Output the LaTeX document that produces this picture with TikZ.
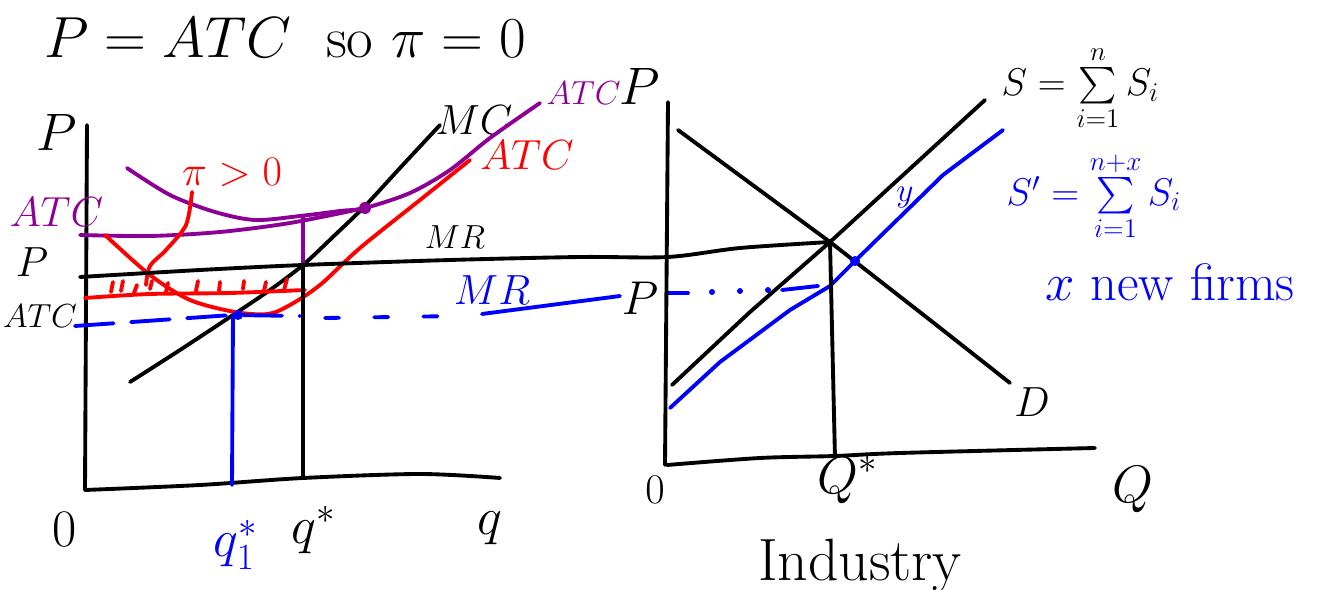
\documentclass[tikz,border=0pt]{standalone}
\usepackage{fix-cm}
\usepackage{exscale}
\definecolor{violet}{RGB}{140,0,150}
\definecolor{rouge}{RGB}{255,0,0}
\definecolor{bleu}{RGB}{0,0,255}
\tikzset{
  trait/.style={line width=2.2pt,line cap=round,line join=round},
  titre/.style={font=\fontsize{33}{33}\selectfont},
  grand/.style={font=\fontsize{30}{30}\selectfont},
  moyen/.style={font=\fontsize{24}{24}\selectfont},
  somme/.style={font=\fontsize{22}{22}\selectfont,anchor=west,inner sep=1pt},
  petit/.style={font=\fontsize{19}{19}\selectfont},
}
\begin{document}
\begin{tikzpicture}[x=0.02cm,y=-0.02cm,trait]
\useasboundingbox (0,0) rectangle (1322,590);
		%titre
		\node[titre] (titre) at (285,38) {$P = ATC$\ \ so $\pi = 0$};
		%axes firme
		\draw (87,125) -- (85,490);
		\draw plot[smooth] coordinates {(85,490) (200,485) (303,478) (420,474) (500,478)};
		\node[grand] (pf) at (57,132) {$P$};
		\node[grand] (zf) at (65,530) {$0$};
		\node[grand,bleu] (q1) at (236,545) {$q_1^*$};
		\node[grand] (qe) at (314,530) {$q^*$};
		\node[grand] (qf) at (490,528) {$q$};
		%couts
		\draw plot[smooth] coordinates {(130,382) (180,350) (233,315) (270,290) (303,265) (335,235) (365,206) (400,168) (440,125)};
		\node[moyen] (mc) at (474,120) {$MC$};
		\draw[violet] plot[smooth] coordinates {(127,168) (170,195) (215,212) (255,220) (300,216) (340,211) (365,208) (410,193) (450,170) (490,138) (540,103)};
		\draw[violet] plot[smooth] coordinates {(80,235) (150,236) (220,232) (290,223) (365,208)};
		\draw[violet] (303,217) -- (303,266);
		\fill[violet] (365,208) circle (6);
		\node[moyen,violet,anchor=west] (atcv) at (2,212) {$ATC$};
		\node[font=\fontsize{19}{19}\selectfont,violet,anchor=west,inner sep=1pt] (atcv2) at (543,93) {$ATC$};
		\draw[rouge] plot[smooth] coordinates {(105,235) (150,275) (190,300) (235,312) (268,314) (290,305) (320,285) (360,248) (420,200) (470,160)};
		\draw[rouge] plot[smooth] coordinates {(85,298) (150,294) (230,293) (305,290)};
		\node[moyen,rouge] (atcr) at (527,155) {$ATC$};
		\node[moyen,rouge] (profit) at (232,172) {$\pi > 0$};
		\draw[rouge] plot[smooth] coordinates {(192,192) (186,225) (166,250) (150,266) (146,285)};
		%hachures
		\draw[rouge] (113,282) -- (111,292);
		\draw[rouge] (123,281) -- (121,291);
		\draw[rouge] (137,285) -- (134,293);
		\draw[rouge] (152,281) -- (150,289);
		\draw[rouge] (168,283) -- (166,292);
		\draw[rouge] (198,281) -- (196,291);
		\draw[rouge] (220,282) -- (219,291);
		\draw[rouge] (244,281) -- (243,289);
		\draw[rouge] (266,282) -- (264,291);
		\draw[rouge] (287,279) -- (284,290);
		%prix
		\draw plot[smooth] coordinates {(80,277) (200,270) (303,265) (450,260) (580,257) (668,257) (740,248) (830,242)};
		\node[petit] (mr) at (455,237) {$MR$};
		\node[moyen] (pp) at (32,262) {$P$};
		\node[petit] (atcn) at (40,316) {$ATC$};
		\draw (303,265) -- (303,477);
		%nouveau prix
		\draw[bleu,dash pattern=on 22pt off 10pt] (75,326) -- (232,315) -- (300,316);
		\draw[bleu,dash pattern=on 8pt off 20pt] (325,318) -- (460,316);
		\draw[bleu] (482,314) -- (620,296);
		\draw[bleu] (233,315) -- (232,485);
		\fill[bleu] (238,315) circle (5);
		\node[moyen,bleu] (mrb) at (492,290) {$MR$};
		\node[font=\fontsize{27}{27}\selectfont] (pb) at (640,298) {$P$};
		\draw[bleu] (668,293) -- (688,293);
		\fill[bleu] (712,292) circle (3);
		\fill[bleu] (740,291) circle (3);
		\fill[bleu] (768,290) circle (3);
		\draw[bleu] (782,290) -- (818,286);
		%industrie
		\draw (668,102) -- (665,465);
		\draw plot[smooth] coordinates {(667,465) (760,458) (835,456) (900,453) (1095,448)};
		\node[grand] (pi) at (640,86) {$P$};
		\node[moyen] (zi) at (655,490) {$0$};
		\node[grand] (qi) at (848,480) {$Q^*$};
		\node[grand] (qq) at (1133,490) {$Q$};
		\node[font=\fontsize{34}{34}\selectfont] (ind) at (860,566) {Industry};
		\draw (678,130) -- (830,242) -- (930,320) -- (1010,383);
		\node[moyen] (dem) at (1032,402) {$D$};
		\draw (672,385) -- (750,312) -- (830,242) -- (985,100);
		\node[somme] (s) at (998,88) {$S = \sum\limits_{i=1}^{n} S_i$};
		\draw[bleu] (670,408) -- (720,362) -- (790,310) -- (830,286) -- (855,261) -- (943,175) -- (1003,130);
		\fill[bleu] (855,261) circle (5);
		\node[petit,bleu] (y) at (905,198) {$y$};
		\node[somme,bleu] (sp) at (1003,196) {$S' = \sum\limits_{i=1}^{n+x} S_i$};
		\node[font=\fontsize{30}{30}\selectfont,bleu] (nf) at (1170,282) {$x$ new firms};
		\draw (830,242) -- (835,458);
\end{tikzpicture}
\end{document}
